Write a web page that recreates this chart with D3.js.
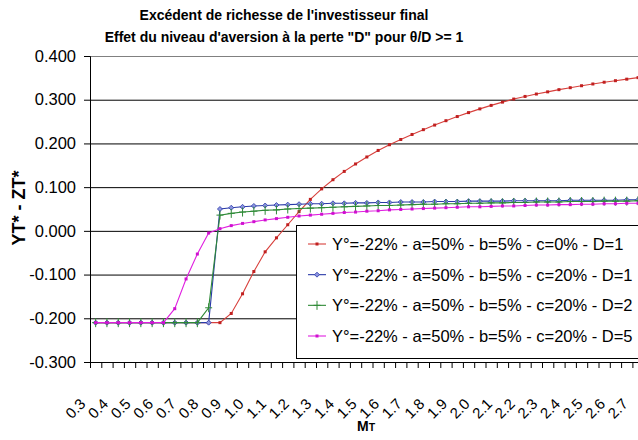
<!DOCTYPE html>
<html><head><meta charset="utf-8">
<script src="https://cdn.jsdelivr.net/npm/d3@7"></script>
<style>
body{margin:0;background:#fff;overflow:hidden}
svg{display:block}
text{font-family:"Liberation Sans",Arial,sans-serif}
</style>
</head><body>
<svg id="c" width="638" height="440"></svg>
<script>
const categories = ["0.30","0.35","0.40","0.45","0.50","0.55","0.60","0.65","0.70","0.75","0.80","0.85","0.90","0.95","1.00","1.05","1.10","1.15","1.20","1.25","1.30","1.35","1.40","1.45","1.50","1.55","1.60","1.65","1.70","1.75","1.80","1.85","1.90","1.95","2.00","2.05","2.10","2.15","2.20","2.25","2.30","2.35","2.40","2.45","2.50","2.55","2.60","2.65","2.70"];
const tickLabels = ["0.3","0.4","0.5","0.6","0.7","0.8","0.9","1.0","1.1","1.2","1.3","1.4","1.5","1.6","1.7","1.8","1.9","2.0","2.1","2.2","2.3","2.4","2.5","2.6","2.7"];
const yTicks = [0.4,0.3,0.2,0.1,0,-0.1,-0.2,-0.3];
const seriesNames = ["Y°=-22% - a=50% - b=5% - c=0% - D=1","Y°=-22% - a=50% - b=5% - c=20% - D=1","Y°=-22% - a=50% - b=5% - c=20% - D=2","Y°=-22% - a=50% - b=5% - c=20% - D=5"];
const redD1 = [-0.210,-0.210,-0.210,-0.210,-0.210,-0.210,-0.210,-0.210,-0.210,-0.210,-0.210,-0.210,-0.189,-0.144,-0.093,-0.048,-0.016,0.014,0.044,0.072,0.096,0.117,0.136,0.153,0.169,0.184,0.197,0.209,0.2205,0.2315,0.242,0.252,0.2615,0.2705,0.279,0.287,0.2945,0.3015,0.3075,0.313,0.318,0.323,0.3275,0.332,0.336,0.340,0.3435,0.347,0.3505];
const blueD1 = [-0.210,-0.210,-0.210,-0.210,-0.210,-0.210,-0.210,-0.210,-0.210,-0.210,-0.210,0.050,0.053,0.055,0.057,0.058,0.059,0.060,0.061,0.062,0.062,0.063,0.063,0.064,0.064,0.065,0.065,0.066,0.066,0.066,0.067,0.067,0.067,0.068,0.068,0.068,0.068,0.069,0.069,0.069,0.069,0.069,0.070,0.070,0.070,0.070,0.070,0.071,0.071];
const greenD2 = [-0.210,-0.210,-0.210,-0.210,-0.210,-0.210,-0.210,-0.210,-0.210,-0.210,-0.176,0.036,0.040,0.043,0.045,0.047,0.048,0.050,0.051,0.052,0.053,0.054,0.055,0.056,0.057,0.058,0.058,0.059,0.060,0.061,0.061,0.062,0.062,0.063,0.063,0.064,0.064,0.065,0.065,0.066,0.066,0.066,0.067,0.067,0.067,0.068,0.068,0.068,0.069];
const magentaD5 = [-0.210,-0.210,-0.210,-0.210,-0.210,-0.210,-0.210,-0.178,-0.110,-0.053,-0.005,0.005,0.012,0.017,0.021,0.025,0.028,0.031,0.034,0.036,0.038,0.040,0.042,0.043,0.045,0.046,0.048,0.049,0.050,0.051,0.052,0.053,0.054,0.055,0.055,0.056,0.057,0.057,0.058,0.059,0.059,0.060,0.060,0.061,0.061,0.062,0.062,0.063,0.063];

const series = [
  {name: seriesNames[0], values: redD1, color: "#d8403c", marker: "square", mfill: "#c02020"},
  {name: seriesNames[1], values: blueD1, color: "#2a3aa8", marker: "diamond", mfill: "#8c94e0"},
  {name: seriesNames[2], values: greenD2, color: "#2e8a36", marker: "plus", mfill: "#2e8a36"},
  {name: seriesNames[3], values: magentaD5, color: "#e020e0", marker: "square", mfill: "#d010d0"}
];

const svg = d3.select("#c");
const left = 90, bw = 11.3;
const x = d3.scaleBand().domain(categories).range([left, left + bw*categories.length]).padding(0);
const xb = d3.scaleLinear().domain([0, categories.length]).range(x.range());
const y = d3.scaleLinear().domain([-0.3, 0.4]).range([362, 56]);
const cx = c => x(c) + x.bandwidth()/2;
const plotR = x.range()[1];

// top border
svg.append("line").attr("x1", left).attr("x2", plotR).attr("y1", y(0.4)+0.5).attr("y2", y(0.4)+0.5).attr("stroke", "#808080");

// gridlines
const grid = svg.append("g").attr("transform", `translate(${left},0)`)
  .call(d3.axisLeft(y).tickValues(yTicks.filter(v => v < 0.35 && v > -0.25)).tickSize(-(plotR-left)).tickFormat(""));
grid.select(".domain").remove();
grid.selectAll("line").attr("stroke", "#000");

// y axis
const ya = svg.append("g").attr("transform", `translate(${left},0)`)
  .call(d3.axisLeft(y).tickValues(yTicks).tickSize(6).tickPadding(8).tickFormat(d => d.toFixed(3)));
ya.selectAll("text").attr("font-size", 16.5).attr("fill", "#000").style("font-family", '"Liberation Sans",Arial,sans-serif');
ya.selectAll("line,path").attr("stroke", "#000");

// x axis boundary ticks
const xa = svg.append("g").attr("transform", `translate(0,${y(-0.3)})`)
  .call(d3.axisBottom(xb).tickValues(d3.range(0, categories.length+1)).tickSize(6).tickSizeOuter(0).tickFormat(""));
xa.selectAll("line,path").attr("stroke", "#000");

// x labels
const labelMap = {};
tickLabels.forEach(t => { labelMap[(+t).toFixed(2)] = t; });
const xl = svg.append("g").attr("transform", `translate(0,${y(-0.3)})`)
  .call(d3.axisBottom(x).tickValues(categories.filter(c => labelMap[c])).tickSize(0).tickFormat(c => labelMap[c]));
xl.select(".domain").remove();
xl.selectAll("text")
  .attr("font-size", 15).attr("fill", "#000").style("font-family", '"Liberation Sans",Arial,sans-serif')
  .attr("text-anchor", "end").attr("dy", null).attr("y", null)
  .attr("transform", "translate(-12,40) rotate(-45)")
  .attr("dominant-baseline", "middle");

// series
const line = d3.line().x((d,i) => cx(categories[i])).y(d => y(d));
series.forEach(s => {
  const g = svg.append("g");
  g.append("path").datum(s.values).attr("d", line).attr("fill", "none").attr("stroke", s.color).attr("stroke-width", 1.1);
  const pts = g.selectAll("g.m").data(s.values).enter().append("g").attr("transform", (d,i) => `translate(${cx(categories[i])},${y(d)})`);
  drawMarker(pts, s);
});

function drawMarker(sel, s) {
  if (s.marker === "square") {
    sel.append("rect").attr("x", -1.5).attr("y", -1.5).attr("width", 3).attr("height", 3).attr("fill", s.mfill);
  } else if (s.marker === "diamond") {
    sel.append("path").attr("d", "M0,-2.5L2.5,0L0,2.5L-2.5,0Z").attr("fill", s.mfill).attr("stroke", s.color).attr("stroke-width", 0.8);
  } else if (s.marker === "plus") {
    sel.append("path").attr("d", "M0,-4.5V4.5M-3.5,0H3.5").attr("stroke", s.color).attr("stroke-width", 1);
  }
}

// legend
const lg = svg.append("g");
lg.append("rect").attr("x", 296.5).attr("y", 225.5).attr("width", 360).attr("height", 133).attr("fill", "#fff").attr("stroke", "#000");
const rowY = d3.scalePoint().domain(seriesNames).range([244, 336]);
series.forEach(s => {
  const r = lg.append("g").attr("transform", `translate(0,${rowY(s.name)})`);
  r.append("line").attr("x1", 308).attr("x2", 326).attr("y1", 0).attr("y2", 0).attr("stroke", s.color).attr("stroke-width", 1.1);
  drawMarker(r.append("g").attr("transform", "translate(317,0)"), s);
  r.append("text").attr("x", 332).attr("y", 0).attr("dy", "0.36em").attr("font-size", 16.5).attr("fill", "#000").text(s.name);
});

// titles
svg.append("text").attr("x", 284).attr("y", 20).attr("text-anchor", "middle").attr("font-size", 14).attr("font-weight", "bold").text("Excédent de richesse de l'investisseur final");
svg.append("text").attr("x", 284).attr("y", 42).attr("text-anchor", "middle").attr("font-size", 14).attr("font-weight", "bold").text("Effet du niveau d'aversion à la perte \"D\" pour θ/D >= 1");
svg.append("text").attr("transform", "translate(25,208) rotate(-90)").attr("text-anchor", "middle").attr("font-size", 18).attr("font-weight", "bold").text("YT* - ZT*");
const mt = svg.append("text").attr("x", 366).attr("y", 431).attr("text-anchor", "middle").attr("font-weight", "bold");
mt.append("tspan").attr("font-size", 14).text("M");
mt.append("tspan").attr("font-size", 10.5).text("T");
</script>
</body></html>
